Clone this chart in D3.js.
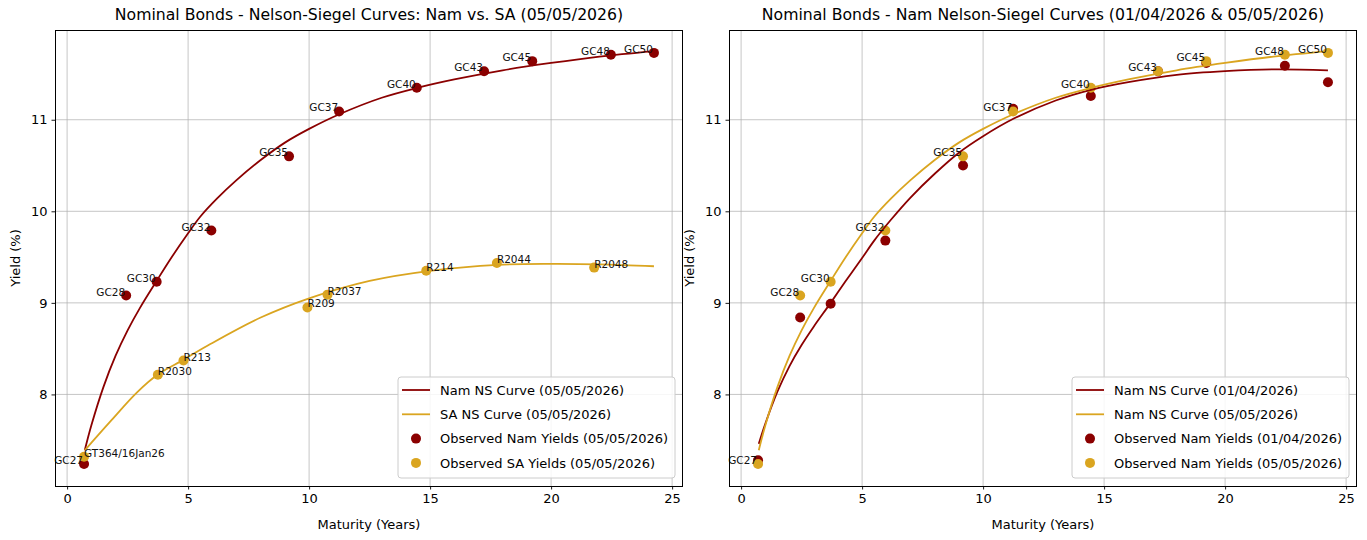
<!DOCTYPE html>
<html>
<head>
<meta charset="utf-8">
<script src="https://cdn.jsdelivr.net/npm/d3@7"></script>
<style>
  body { margin: 0; background: #fff; }
  svg text { font-family: 'DejaVu Sans', sans-serif; }
</style>
</head>
<body>
<svg id="chart" width="1367" height="540"></svg>
<script>
// bonds - Namibia
const namBonds = ['GC27', 'GC28', 'GC30', 'GC32', 'GC35', 'GC37', 'GC40', 'GC43', 'GC45', 'GC48', 'GC50'];
const namMaturity = [0.70, 2.44, 3.70, 5.96, 9.17, 11.24, 14.45, 17.23, 19.22, 22.47, 24.25];
const namYield0505 = [7.24, 9.08, 9.23, 9.79, 10.60, 11.09, 11.35, 11.53, 11.64, 11.71, 11.73];
const namYield0104 = [7.28, 8.84, 8.99, 9.68, 10.50, 11.12, 11.26, 11.53, 11.62, 11.59, 11.41];

// bonds - South Africa
const saBonds = ['GT364/16Jan26', 'R2030', 'R213', 'R209', 'R2037', 'R214', 'R2044', 'R2048'];
const saMaturity = [0.70, 3.75, 4.81, 9.93, 10.76, 14.84, 17.76, 21.78];
const saYield0505 = [7.32, 8.215, 8.37, 8.95, 9.09, 9.35, 9.435, 9.385];

// fitted Nelson-Siegel curves
const nsGrid = [0.73, 1.0, 1.5, 2.0, 2.5, 3.0, 3.7, 4.3, 5.0, 5.5, 6.2, 7, 8, 9, 10, 11.25, 13, 14.5, 16, 18, 20, 22, 24.25];
const namCurve0505 = [7.39, 7.66, 8.08, 8.42, 8.70, 8.94, 9.24, 9.49, 9.76, 9.94, 10.14, 10.34, 10.56, 10.75, 10.90, 11.06, 11.24, 11.35, 11.44, 11.54, 11.62, 11.69, 11.75];
const namCurve0104 = [7.46, 7.68, 8.03, 8.31, 8.54, 8.74, 9.00, 9.23, 9.49, 9.68, 9.91, 10.15, 10.41, 10.64, 10.82, 11.01, 11.21, 11.33, 11.41, 11.49, 11.53, 11.55, 11.54];
const saGrid = [0.73, 1.77, 2.88, 3.76, 4.82, 5.92, 8, 10, 12.5, 15, 17.8, 20, 22, 24.25];
const saCurve0505 = [7.39, 7.70, 8.02, 8.22, 8.38, 8.55, 8.84, 9.05, 9.24, 9.35, 9.415, 9.425, 9.42, 9.40];

const xTicks = [0, 5, 10, 15, 20, 25];
const yTicks = [8, 9, 10, 11];

const RED = '#8b0000';
const GOLD = '#daa520';

const svg = d3.select('#chart');

function zip(xs, ys) {
    return xs.map((x, i) => ({ x: x, y: ys[i] }));
}

function drawPanel(opts) {
    const left = opts.left, top = 30, width = 628, height = 456;
    const g = svg.append('g').attr('transform', `translate(${left},${top})`);

    const x = d3.scaleLinear().domain([-0.5, 25.45]).range([0, width]);
    const y = d3.scaleLinear().domain([7.0, 11.98]).range([height, 0]);

    // grid
    g.append('g').selectAll('line').data(xTicks).enter().append('line')
        .attr('x1', d => x(d)).attr('x2', d => x(d))
        .attr('y1', 0).attr('y2', height)
        .attr('stroke', '#b0b0b0').attr('stroke-opacity', 0.8).attr('stroke-width', 0.9);
    g.append('g').selectAll('line').data(yTicks).enter().append('line')
        .attr('x1', 0).attr('x2', width)
        .attr('y1', d => y(d)).attr('y2', d => y(d))
        .attr('stroke', '#b0b0b0').attr('stroke-opacity', 0.8).attr('stroke-width', 0.9);

    // axes
    const xAxis = g.append('g').attr('transform', `translate(0,${height})`)
        .call(d3.axisBottom(x).tickValues(xTicks).tickFormat(d3.format('d')).tickSize(3.5).tickPadding(4).tickSizeOuter(0));
    const yAxis = g.append('g')
        .call(d3.axisLeft(y).tickValues(yTicks).tickFormat(d3.format('d')).tickSize(3.5).tickPadding(4).tickSizeOuter(0));
    [xAxis, yAxis].forEach(a => {
        a.select('.domain').remove();
        a.selectAll('text').attr('font-size', 13).attr('fill', '#000')
            .attr('font-family', "'DejaVu Sans', sans-serif");
        a.selectAll('line').attr('stroke', '#000').attr('stroke-width', 0.9);
    });

    // scatter first (below lines, like matplotlib)
    opts.points.forEach(p => {
        g.append('g').selectAll('circle').data(zip(p.x, p.y)).enter().append('circle')
            .attr('cx', d => x(d.x)).attr('cy', d => y(d.y)).attr('r', 5)
            .attr('fill', p.color);
    });

    const line = d3.line().x(d => x(d.x)).y(d => y(d.y)).curve(d3.curveCatmullRom);
    opts.curves.forEach(c => {
        g.append('path').datum(zip(c.x, c.y))
            .attr('d', line).attr('fill', 'none')
            .attr('stroke', c.color).attr('stroke-width', 1.8);
    });

    // bond labels
    opts.labels.forEach(l => {
        g.append('g').selectAll('text').data(l.names.map((n, i) => ({ n: n, x: l.x[i], y: l.y[i] })))
            .enter().append('text')
            .attr('x', d => x(d.x) + (l.anchor === 'end' ? -1 : 0))
            .attr('y', d => y(d.y))
            .attr('text-anchor', l.anchor)
            .attr('font-size', 10.5).attr('fill', '#111')
            .text(d => d.n);
    });

    // frame
    g.append('rect').attr('x', 0.5).attr('y', 0.5).attr('width', width - 1).attr('height', height)
        .attr('fill', 'none').attr('stroke', '#000').attr('stroke-width', 1);

    // titles
    g.append('text').attr('x', width / 2).attr('y', -10).attr('text-anchor', 'middle')
        .attr('font-size', 15.7).attr('fill', '#000').text(opts.title);
    g.append('text').attr('x', width / 2).attr('y', height + 43).attr('text-anchor', 'middle')
        .attr('font-size', 13).attr('fill', '#000').text('Maturity (Years)');
    g.append('text').attr('transform', `translate(-35,${height / 2}) rotate(-90)`)
        .attr('text-anchor', 'middle').attr('font-size', 13).attr('fill', '#000').text('Yield (%)');

    // legend
    const lg = g.append('g').attr('transform', `translate(${width - 285},${height - 109})`);
    lg.append('rect').attr('width', 277).attr('height', 101).attr('rx', 3)
        .attr('fill', '#fff').attr('fill-opacity', 0.85).attr('stroke', '#ccc');
    opts.legend.forEach((e, i) => {
        const cy = 13 + i * 24.3;
        if (e.type === 'line') {
            lg.append('line').attr('x1', 4).attr('x2', 32).attr('y1', cy).attr('y2', cy)
                .attr('stroke', e.color).attr('stroke-width', 1.8);
        } else {
            lg.append('circle').attr('cx', 18).attr('cy', cy).attr('r', 5).attr('fill', e.color);
        }
        lg.append('text').attr('x', 42).attr('y', cy).attr('dy', '0.36em')
            .attr('font-size', 13).attr('fill', '#000').text(e.text);
    });
}

drawPanel({
    left: 55,
    title: 'Nominal Bonds - Nelson-Siegel Curves: Nam vs. SA (05/05/2026)',
    curves: [
        { x: nsGrid, y: namCurve0505, color: RED },
        { x: saGrid, y: saCurve0505, color: GOLD }
    ],
    points: [
        { x: namMaturity, y: namYield0505, color: RED },
        { x: saMaturity, y: saYield0505, color: GOLD }
    ],
    labels: [
        { names: namBonds, x: namMaturity, y: namYield0505, anchor: 'end' },
        { names: saBonds, x: saMaturity, y: saYield0505, anchor: 'start' }
    ],
    legend: [
        { type: 'line', color: RED, text: 'Nam NS Curve (05/05/2026)' },
        { type: 'line', color: GOLD, text: 'SA NS Curve (05/05/2026)' },
        { type: 'dot', color: RED, text: 'Observed Nam Yields (05/05/2026)' },
        { type: 'dot', color: GOLD, text: 'Observed SA Yields (05/05/2026)' }
    ]
});

drawPanel({
    left: 729,
    title: 'Nominal Bonds - Nam Nelson-Siegel Curves (01/04/2026 & 05/05/2026)',
    curves: [
        { x: nsGrid, y: namCurve0104, color: RED },
        { x: nsGrid, y: namCurve0505, color: GOLD }
    ],
    points: [
        { x: namMaturity, y: namYield0104, color: RED },
        { x: namMaturity, y: namYield0505, color: GOLD }
    ],
    labels: [
        { names: namBonds, x: namMaturity, y: namYield0505, anchor: 'end' }
    ],
    legend: [
        { type: 'line', color: RED, text: 'Nam NS Curve (01/04/2026)' },
        { type: 'line', color: GOLD, text: 'Nam NS Curve (05/05/2026)' },
        { type: 'dot', color: RED, text: 'Observed Nam Yields (01/04/2026)' },
        { type: 'dot', color: GOLD, text: 'Observed Nam Yields (05/05/2026)' }
    ]
});
</script>
</body>
</html>
